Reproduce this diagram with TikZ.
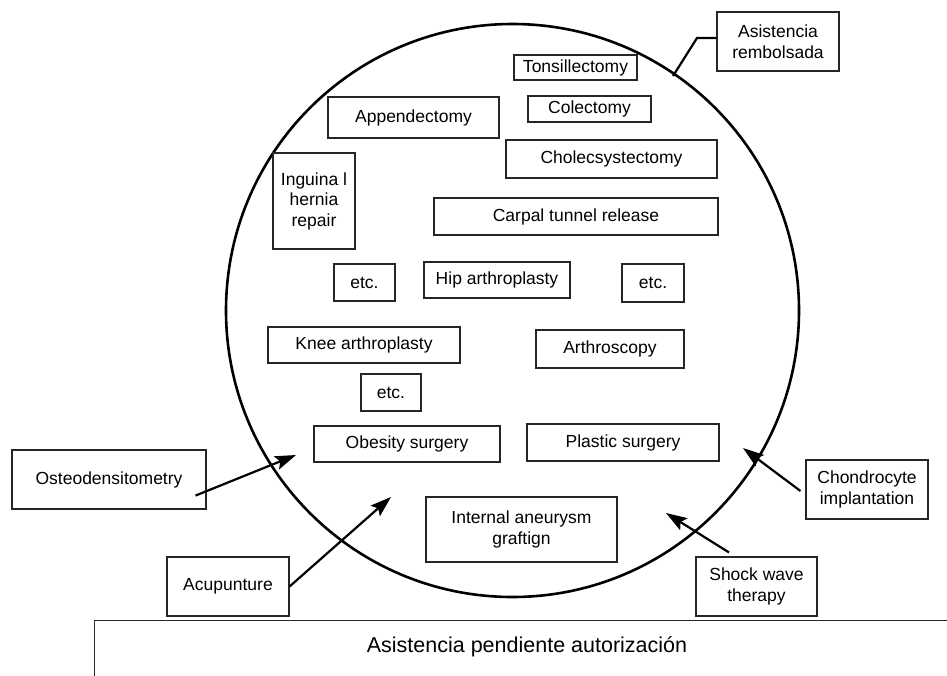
\documentclass[tikz,border=0pt]{standalone}
\usepackage{fontspec}
\setmainfont{Liberation Sans}
\usetikzlibrary{arrows.meta}
\begin{document}
\begin{tikzpicture}[x=1pt,y=-1pt,
  box/.style={draw=black!85, line width=1.1pt, rectangle, inner sep=0pt, align=center,
    font=\fontsize{17.5}{20.5}\selectfont},
  ring/.style={line width=2.6pt},
  pointer/.style={line width=2.2pt, -{Stealth[length=21pt,width=14pt,inset=4pt]}},
  leader/.style={line width=2.2pt}]
\useasboundingbox (0,0) rectangle (947,675);

% the big circle
\draw[ring] (512.5,310.5) circle[radius=286.5];

% procedures inside the circle
\node[box, minimum width=123, minimum height=25] (tons)   at (575.5,67.5) {Tonsillectomy};
\node[box, minimum width=123, minimum height=26] (colec)  at (589.5,109)  {Colectomy};
\node[box, minimum width=171, minimum height=41] (appen)  at (413.5,117.5){Appendectomy};
\node[box, minimum width=211, minimum height=38] (chole)  at (611.5,159)  {Cholecsystectomy};
\node[box, minimum width=82,  minimum height=96] (ingui)  at (314,201)    {Inguina l\\hernia\\repair};
\node[box, minimum width=284, minimum height=37] (carpal) at (576,216.5)  {Carpal tunnel release};
\node[box, minimum width=61,  minimum height=37] (etca)   at (364.5,282.5){etc.};
\node[box, minimum width=146, minimum height=36] (hip)    at (497,280)    {Hip arthroplasty};
\node[box, minimum width=62,  minimum height=38] (etcb)   at (653,283)    {etc.};
\node[box, minimum width=192, minimum height=36] (knee)   at (364,345)    {Knee arthroplasty};
\node[box, minimum width=148, minimum height=38] (arthro) at (610,349)    {Arthroscopy};
\node[box, minimum width=60,  minimum height=37] (etcc)   at (391,392.5)  {etc.};
\node[box, minimum width=186, minimum height=36] (obes)   at (407,444)    {Obesity surgery};
\node[box, minimum width=192, minimum height=37] (plast)  at (623,442.5)  {Plastic surgery};
\node[box, minimum width=191, minimum height=65] (aneur)  at (521.5,529.5){Internal aneurysm\\graftign};

% procedures outside the circle
\node[box, minimum width=122, minimum height=59] (rem)   at (778,41.5)  {Asistencia\\rembolsada};
\node[box, minimum width=194, minimum height=59] (osteo) at (109,479.5) {Osteodensitometry};
\node[box, minimum width=122, minimum height=59] (acu)   at (228,586.5) {Acupunture};
\node[box, minimum width=122, minimum height=59] (chon)  at (867,489.5) {Chondrocyte\\implantation};
\node[box, minimum width=121, minimum height=59] (shock) at (756.5,586.5){Shock wave\\therapy};

% pending-authorisation band along the bottom
\node[draw=black!85, line width=1.1pt, minimum width=900, minimum height=90, anchor=north west] (pend) at (94,620) {};
\node[font=\fontsize{21.5}{24}\selectfont] (pendtext) at (527,647) {Asistencia pendiente autorización};

% arrow targets and leader end
\coordinate (tipOsteo) at (296,455);
\coordinate (tipAcu)   at (391,497);
\coordinate (tipChon)  at (743,448);
\coordinate (tipShock) at (666,513);
\coordinate (bend)     at (697,38);
\coordinate (ringPt)   at (673,76);

\draw[leader] ([yshift=3.5pt]rem.west) -- (bend) -- (ringPt);
\draw[pointer] ([shift={(-11,-14)}]osteo.south east) -- (tipOsteo);
\draw[pointer] (acu.east) -- (tipAcu);
\draw[pointer] ([xshift=-5pt,yshift=-1.5pt]chon.west) -- (tipChon);
\draw[pointer] ([shift={(-27.5,-4)}]shock.north) -- (tipShock);
\end{tikzpicture}
\end{document}
